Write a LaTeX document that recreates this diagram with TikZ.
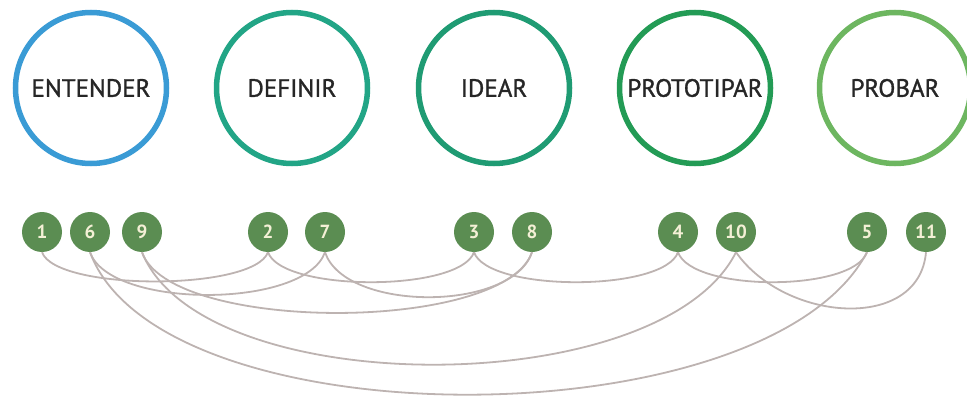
\documentclass[tikz,border=0pt]{standalone}
\usepackage{fontspec}
\setmainfont{PT Sans}
\definecolor{cEnt}{HTML}{3A9BD5}
\definecolor{cDef}{HTML}{22A586}
\definecolor{cIde}{HTML}{1F9B73}
\definecolor{cPro}{HTML}{239B55}
\definecolor{cPrb}{HTML}{6DB660}
\definecolor{numgreen}{HTML}{5B8D52}
\definecolor{numtext}{HTML}{F4F0D6}
\definecolor{linkgray}{HTML}{BDB3B1}
\begin{document}
\begin{tikzpicture}[x=1pt,y=-1pt,
  phase/.style={circle, draw, line width=5.5pt, minimum size=151pt, inner sep=0pt,
    font=\fontsize{25}{25}\selectfont\addfontfeature{FakeBold=1.2}, text=black!85},
  num/.style={circle, fill=numgreen, minimum size=40pt, inner sep=0pt,
    font=\bfseries\fontsize{19}{19}\selectfont, text=numtext},
  link/.style={draw=linkgray, line width=1.8pt}]
\useasboundingbox (0,0) rectangle (967,396);
\node[phase, draw=cEnt] (ent) at (91,88) {ENTENDER};
\node[phase, draw=cDef] (def) at (292,88) {DEFINIR};
\node[phase, draw=cIde] (ide) at (494,88) {IDEAR};
\node[phase, draw=cPro] (pro) at (695,88) {PROTOTIPAR};
\node[phase, draw=cPrb] (prb) at (895,88) {PROBAR};
\node[num] (n1) at (42,232) {1};
\node[num] (n6) at (90,232) {6};
\node[num] (n9) at (142,232) {9};
\node[num] (n2) at (268,232) {2};
\node[num] (n7) at (325,232) {7};
\node[num] (n3) at (474,232) {3};
\node[num] (n8) at (532,232) {8};
\node[num] (n4) at (678,232) {4};
\node[num] (n10) at (736,232) {10};
\node[num] (n5) at (867,232) {5};
\node[num] (n11) at (926,232) {11};
\draw[link] (n1.south) .. controls +(14,39) and +(-14,39) .. (n2.south);
\draw[link] (n2.south) .. controls +(14,40) and +(-14,40) .. (n3.south);
\draw[link] (n3.south) .. controls +(14,40) and +(-14,40) .. (n4.south);
\draw[link] (n4.south) .. controls +(14,40) and +(-14,40) .. (n5.south);
\draw[link] (n6.south) .. controls +(70,190) and +(-100,190) .. (n5.south);
\draw[link] (n6.south) .. controls +(20,57) and +(-20,57) .. (n7.south);
\draw[link] (n7.south) .. controls +(20,60) and +(-20,60) .. (n8.south);
\draw[link] (n9.south) .. controls +(28,81) and +(-28,81) .. (n8.south);
\draw[link] (n9.south) .. controls +(60,150) and +(-75,150) .. (n10.south);
\draw[link] (n10.south) .. controls +(49,70) and +(-7,80) .. (n11.south);
\end{tikzpicture}
\end{document}
